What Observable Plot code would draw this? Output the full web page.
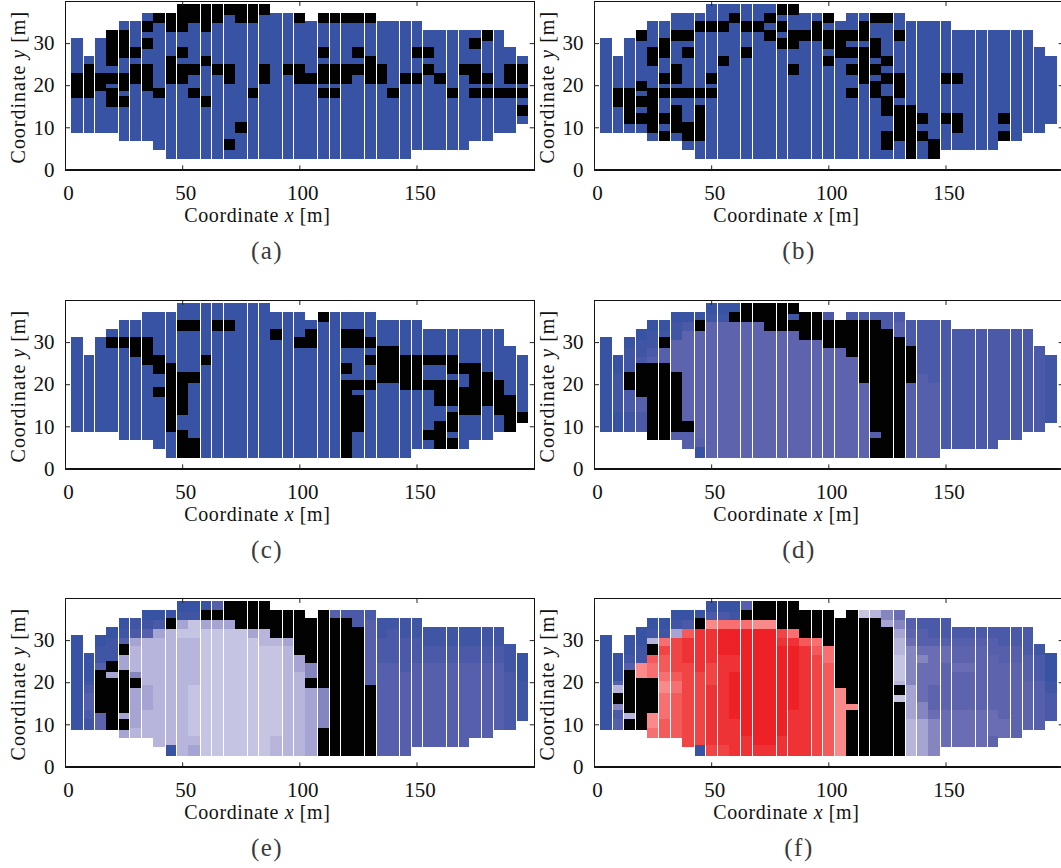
<!DOCTYPE html>
<html><head><meta charset="utf-8">
<script src="https://cdn.jsdelivr.net/npm/d3@7"></script>
<script src="https://cdn.jsdelivr.net/npm/@observablehq/plot@0.6"></script>
<style>
html,body{margin:0;padding:0;background:#fff;width:1061px;height:868px;overflow:hidden}
#page{position:relative;width:1061px;height:868px;overflow:hidden}
.panel{position:absolute}
.cap{position:absolute;font-family:"Liberation Serif",serif;font-size:25px;letter-spacing:1.5px;color:#3a3a3a;text-align:center;transform:translateX(-50%)}
svg rect,svg line{shape-rendering:crispEdges}
</style></head><body><div id="page"></div>
<script>
// Grid: 39 columns of 5 m, 18 rows of about 2.04 m
const colWidth = 5, colStart = 2.5, rowHeight = 2.042, rowStart = 2.55, overlap = 0.55;
// first and last row of each column
const colBottom = [3,3,3,3,2,2,2,1,0,0,0,0,0,0,0,0,0,0,0,0,0,0,0,0,0,0,0,0,0,1,1,1,1,1,2,2,3,3,4];
const colTop    = [13,11,13,14,15,15,16,16,16,17,17,17,17,17,17,17,17,16,16,16,15,16,16,16,16,16,15,15,15,15,14,14,14,14,14,14,14,12,11];
// white seams between columns (column index right of seam)
const seamsLeft  = [1,2,4,5,6,8,9,11,12,13,15,16,18,19,21,22,23,25,26,28,29,30,32,33,35,36,38];
const seamsRight = [1,2,3,5,6,8,9,10,12,13,15,16,18,19,20,22,23,25,26,27,29,30,32,33,35,36,37];
// black cells per column (row numbers)
const blackA = [[9,8,7],[10,9,8,7],[9,8],[14,13,12,11,9,7,6],[14,13,12,9,8,6],[12,10,9],[15,13,10,9,8],[16,7],[16,15,11,10,9],[17,16,15,12,10,9],[17,16,10,7],[17,16,15,11,6],[17,16,10],[17,10,9,1],[17,16,3],[17,16,7],[17,10,9],[],[10],[16,10,9],[9],[16,12,10,9,7],[16,10,9,7],[16,10,9],[16,12,10],[16,11,10,9],[10,9],[7],[9],[12,9],[12,10],[9],[7],[10],[13,10,9,7],[14,9,7],[7],[10,9,7],[10,9,7,5]];
const blackB = [[],[7,6],[7,6,5,4],[14,8,6,4],[12,11,7,6,5,4,3],[13,12,9,7,4,2],[14,10,9,7,5,4,3],[14,12,7,3,2],[15,7,5,4,3,2],[15,9,7],[15,11],[16],[15,12],[15],[16,14],[17,15,13],[17,14,13,10],[14],[15,14],[16,14,13,11],[14,13,12],[14,12,10,7],[15,14,12,11,10,9],[16,13,12,10,8,7],[16,11,9,6,5,2,1],[14,9,8,7,5,4,3,2],[5,4,3,2,1,0],[4,2],[1,0],[9,4],[9,4,3],[],[],[],[4,2],[],[],[],[]];
const blackC = [[],[],[],[13],[13],[13,12],[13,12,11],[11,10,7],[10,9,8,7,6,5,4,3],[15,9,8,7,6,5,2,1,0],[15,9,1,0],[11],[15],[15],[],[],[],[14],[],[13],[14,13],[16],[],[14,13,10,8,7,6,5,4,3,2,1,0],[14,13,8,6,5,4,3],[13,11,8],[12,11,10,9],[12,11,10,9],[11,10,9,8],[11,10,9,8],[11,8,2],[11,8,7,6,3,2,1],[11,10,8,7,6,4,3,1],[10,7,6,5],[10,9,8,7,6,5],[9,8,7,6],[8,7,6,5],[6,5,4,3],[4]];
// shade levels per column, bottom row to top row: digits blue to lavender, letters pink to red, # black, . outside
const cellsD = ["...00000000000....","...001111100......","...11222##1110....","...2233####2110...","..#########32110..","..#########33#10..","..3#######4444110.",".33#4444444444420.","034444444444444#0.","444444444444444410","444444444444444410","4444444444444444#0","4444444444444444##","4444444444444444##","444444444444444###","444444444444444###","444444444444444#1#","44444444444444###.","44444444444444###.","4444444444444###2.","4444444444444###..","444444444444####2.","444444444#######2.","##3#############2.","###############22.","##############332.","333333333####222..","3333333333222222..","3333333332222222..",".222222222222222..",".22222222222222...",".22222222222222...",".22222222222222...",".22222222222222...","..2222222222222...","..2222222222222...","...222222222222...","...2222222222.....","....11111111......"];
const cellsE = ["...00000000000....","...123321000......","...44#####3110....","...######7#1110...","..7#7#####77#310..","..877777#6888721..","..888777888888310.",".8888888888888720.","088888888888888#0.","888888888888889710","789999998888889910","9999999999999997#0","9999999999999997#3","9999999999999997##","999999999999999###","999999999999997###","999999999999988###","88999999999998###.","88888888888887###.","888888888877#####.","77777777#66#####..","###66666#########.","################3.","################2.","###############22.","########333333332.","3333333333322211..","3333333333322221..","3333333333222211..",".333333333322211..",".33333333332211...",".33333333332211...",".33333333332211...",".33333333332211...","..3333333332211...","..3333333332211...","...333333332211...","...2222222111.....","....11111000......"];
const cellsF = ["...00000000000....","...326#83000......","...#8#####3100....","...######aa1100...","..baa####bbc#810..","..ccbbbaabccdb10..","..cccccbbcdddd710.",".ddddddddddeeec20.","0dddddddddeeeee#0.","deeeeeeedddeeeea20","deeeeeeeeeeefffb20","eeeeffffffeefffb10","eefffffffffffffb#3","effffffffffffffa##","effffffffffffffa##","eefffffffffffed###","eeeeeffffffffeb###","eeeeeeeeeeeeec###.","ddddddddddddcb###.","cccccccccccbb####.","aaaaaaaa########..","#####a###########.","################9.","################8.","###############76.","######9#899988765.","8888777766666543..","7777665555565332..","6666544455555322..",".555544444455322..",".55554444454432...",".55554444454432...",".55554444444432...",".45554444444332...","..5544444443322...","..4444444443322...","...444444333222...","...3333332221.....","....22211000......"];
// colour of each shade level
const levels  = ["0","1","2","3","4","5","6","7","8","9","a","b","c","d","e","f"];
const palette = ["#3953a4","#4056a5","#4a5aa8","#555fab","#5e63ad","#6b6db4","#8585c0","#a6a4d2","#b7b5db","#c6c4e3","#fa8a8a","#f76f70","#f45a5a","#f14445","#ef3235","#ee2226"];
const xTicks = [0,50,100,150], yTicks = [0,10,20,30];
const captions = ["(a)","(b)","(c)","(d)","(e)","(f)"];
const frameLeft = [65,594.3], frameTop = [1,299.5,598];
const frameW = 468.7, frameH = 168.4;

const seg = r => ({r, y1: rowStart+r*rowHeight, y2: rowStart+(r+1)*rowHeight});
function stretch(c){ // rows overlap toward the mid-height row
  if (c.r>8) return {...c, y1:c.y1-overlap};
  if (c.r<8) return {...c, y2:c.y2+overlap};
  return {...c, y2:c.y2+overlap*.3, y1:c.y1-overlap*.3};
}
function fromBlack(black){
  const out=[];
  black.forEach((rows,i)=>{ for(let r=colBottom[i];r<=colTop[i];r++) out.push({i,...seg(r),level:rows.includes(r)?"#":"0"}); });
  return out;
}
function fromCells(cells){
  const out=[];
  cells.forEach((s,i)=>{ [...s].forEach((ch,r)=>{ if(ch!==".") out.push({i,...seg(r),level:ch}); }); });
  return out;
}
function panel(cells, seams, col, row){
  const stretched = cells.map(stretch).sort((a,b)=>Math.abs(a.r-8)-Math.abs(b.r-8));
  const base = {x1:d=>colStart+d.i*colWidth, x2:d=>colStart+(d.i+1)*colWidth, y1:"y1", y2:"y2"};
  const mT=4, mL=65, mB=90, mR=1;
  const plot = Plot.plot({
    width:mL+frameW+mR, height:mT+frameH+mB, marginTop:mT, marginLeft:mL, marginBottom:mB, marginRight:mR,
    style:{fontFamily:"'Liberation Serif',serif",fontSize:"21px",color:"#111",background:"transparent"},
    x:{domain:[0,200]}, y:{domain:[0,40]},
    color:{type:"ordinal",domain:levels,range:palette},
    marks:[
      Plot.rect(stretched.filter(d=>d.level!=="#"),{...base,fill:"level"}),
      Plot.rect(stretched.filter(d=>d.level==="#"),{...base,fill:"#020202"}),
      Plot.ruleX(seams,{x:k=>colStart+k*colWidth,y1:rowStart,y2:rowStart+18*rowHeight,stroke:"#fff",strokeWidth:1}),
      Plot.frame({stroke:"#111",strokeWidth:1.3}),
      Plot.axisX({anchor:"bottom",ticks:xTicks,tickSize:-4,fill:"none",label:null,stroke:"#222"}),
      Plot.axisX({anchor:"bottom",ticks:xTicks,tickSize:0,tickPadding:15,dx:3,label:"Coordinate x [m]",labelAnchor:"center",labelArrow:"none",labelOffset:52,stroke:"none"}),
      Plot.axisX({anchor:"top",ticks:xTicks,tickSize:-4,fill:"none",label:null,stroke:"#222"}),
      Plot.axisY({anchor:"left",ticks:yTicks,tickSize:-5,tickPadding:16,label:"Coordinate y [m]",labelAnchor:"center",labelArrow:"none",labelOffset:55,stroke:"#222"}),
      Plot.axisY({anchor:"right",ticks:yTicks,tickSize:-5,fill:"none",label:null,stroke:"#222"})
    ]
  });
  // italicise the coordinate letter in the axis titles
  plot.querySelectorAll("text").forEach(t=>{
    const m=/^Coordinate ([xy]) \[m\]$/.exec(t.textContent);
    if(!m) return;
    const host=t.querySelector("tspan")&&t.children.length===1?t.querySelector("tspan"):t;
    host.textContent="Coordinate ";
    const it=document.createElementNS("http://www.w3.org/2000/svg","tspan");
    it.setAttribute("font-style","italic"); it.textContent=m[1];
    host.appendChild(it); host.appendChild(document.createTextNode(" [m]"));
    t.style.fontSize="20px";
    t.style.letterSpacing=m[1]==="x"?"0.6px":"1px";
    t.setAttribute("dx",m[1]==="x"?-42.5:-1.5);
  });
  plot.setAttribute("class","panel");
  plot.style.left=(frameLeft[col]-mL)+"px";
  plot.style.top=(frameTop[row]-mT)+"px";
  document.getElementById("page").appendChild(plot);
}
const dataSets=[fromBlack(blackA),fromBlack(blackB),fromBlack(blackC),fromCells(cellsD),fromCells(cellsE),fromCells(cellsF)];
dataSets.forEach((d,n)=>{
  const col=n%2,row=n>>1;
  panel(d,col?seamsRight:seamsLeft,col,row);
  const c=document.createElement("div");
  c.className="cap"; c.textContent=captions[n];
  c.style.left=(col?799:267)+"px";
  c.style.top=(frameTop[row]+236)+"px";
  document.getElementById("page").appendChild(c);
});
</script></body></html>
